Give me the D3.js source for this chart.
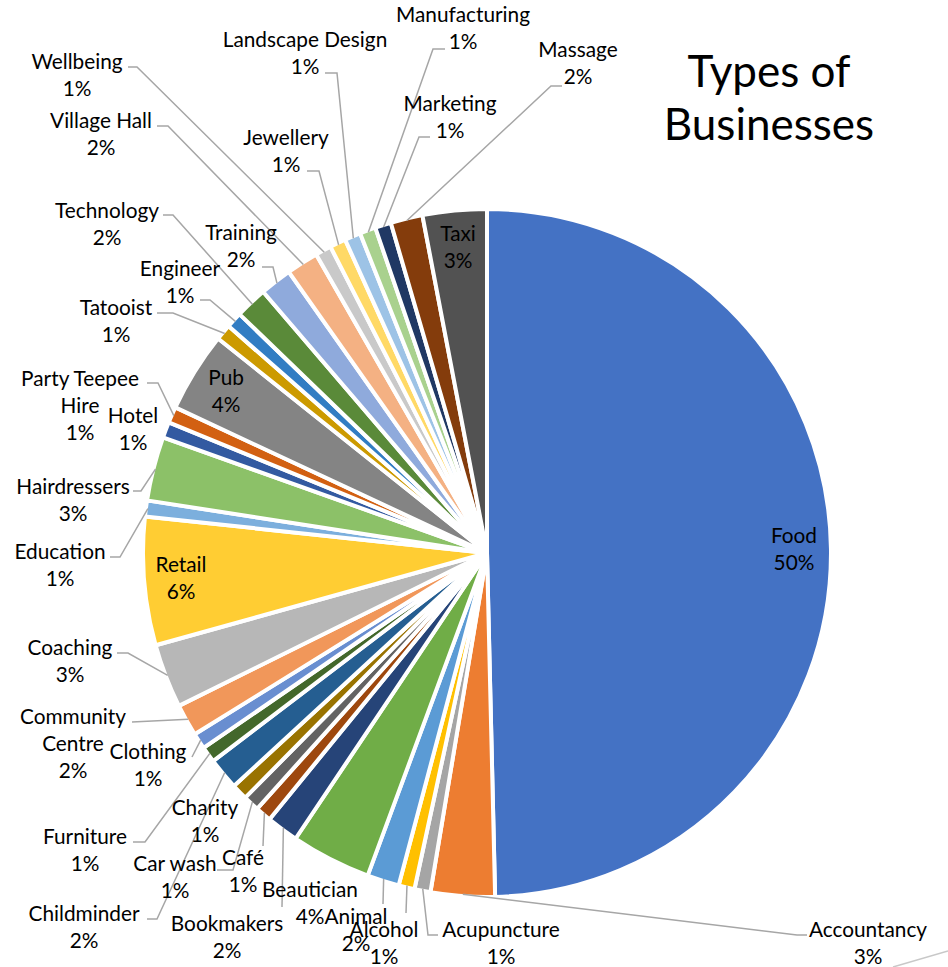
<!DOCTYPE html>
<html>
<head>
<meta charset="utf-8">
<script src="https://cdn.jsdelivr.net/npm/d3@7"></script>
<style>
  html, body { margin: 0; padding: 0; background: #fff; }
  svg { display: block; }
  text { font-family: Lato, "Liberation Sans", sans-serif; fill: #000; }
</style>
</head>
<body>
<svg id="chart" width="948" height="967"></svg>
<script>
// Business types, clockwise from 12 o'clock
const categories = [
  "Food", "Accountancy", "Acupuncture", "Alcohol", "Animal", "Beautician",
  "Bookmakers", "Café", "Car wash", "Charity", "Childminder", "Furniture",
  "Clothing", "Community Centre", "Coaching", "Retail", "Education",
  "Hairdressers", "Hotel", "Party Teepee Hire", "Pub", "Tatooist", "Engineer",
  "Technology", "Training", "Village Hall", "Wellbeing", "Jewellery",
  "Landscape Design", "Manufacturing", "Marketing", "Massage", "Taxi"
];

// Number of businesses of each type
const counts = [
  66, 4, 1, 1, 2, 5,
  2, 1, 1, 1, 2, 1,
  1, 2, 4, 8, 1,
  4, 1, 1, 5, 1, 1,
  2, 2, 2, 1, 1,
  1, 1, 1, 2, 4
];

// Office theme palette, cycled with shades and tints
const palette = [
  "#4472C4", "#ED7D31", "#A5A5A5", "#FFC000", "#5B9BD5", "#70AD47",
  "#264478", "#9E480E", "#636363", "#997300", "#255E91", "#43682B",
  "#698ED0", "#F1975A", "#B7B7B7", "#FFCD33", "#7CAFDD", "#8CC168",
  "#335AA1", "#D26012", "#848484", "#CC9A00", "#327DC3", "#5A8A39",
  "#8FAADC", "#F4B183", "#C9C9C9", "#FFD966", "#9DC3E6", "#A9D18E",
  "#203864", "#843C0C", "#525252"
];

// Labels drawn inside their slices
const insideLabels = ["Food", "Taxi", "Pub", "Retail"];

// Placement of the outside labels: text centre, line breaks, leader route
const labelLayout = {
  "Accountancy":       { x: 868, y: 930, attach: [807, 935], elbow: [797, 935] },
  "Acupuncture":       { x: 501, y: 930, attach: [438, 935], elbow: [428, 935] },
  "Alcohol":           { x: 384, y: 930, attach: [406, 913] },
  "Animal":            { x: 356, y: 917, attach: [383, 904] },
  "Beautician":        { x: 310, y: 890 },
  "Bookmakers":        { x: 227, y: 924, attach: [282, 907] },
  "Café":              { x: 243, y: 858, attach: [263, 846] },
  "Car wash":          { x: 175, y: 864, attach: [217, 870], elbow: [233, 870] },
  "Charity":           { x: 205, y: 808 },
  "Childminder":       { x: 84,  y: 914, attach: [147, 919], elbow: [157, 919] },
  "Furniture":         { x: 85,  y: 837, attach: [133, 842], elbow: [145, 842] },
  "Clothing":          { x: 148, y: 752, attach: [192, 757] },
  "Community Centre":  { x: 73,  y: 717, lines: ["Community", "Centre"], attach: [132, 722] },
  "Coaching":          { x: 70,  y: 648, attach: [117, 653], elbow: [128, 653] },
  "Education":         { x: 60,  y: 552, attach: [110, 557], elbow: [120, 557] },
  "Hairdressers":      { x: 73,  y: 487, attach: [133, 491], elbow: [141, 491] },
  "Hotel":             { x: 133, y: 416 },
  "Party Teepee Hire": { x: 80,  y: 379, lines: ["Party Teepee", "Hire"], attach: [147, 383], elbow: [158, 383] },
  "Tatooist":          { x: 116, y: 308, attach: [157, 313], elbow: [173, 313] },
  "Engineer":          { x: 180, y: 269, attach: [200, 300], elbow: [210, 300] },
  "Technology":        { x: 107, y: 211, attach: [163, 215], elbow: [173, 215] },
  "Training":          { x: 241, y: 233, attach: [262, 267], elbow: [273, 267] },
  "Village Hall":      { x: 101, y: 121, attach: [157, 126], elbow: [168, 126] },
  "Wellbeing":         { x: 77,  y: 62,  attach: [128, 67],  elbow: [137, 67] },
  "Jewellery":         { x: 286, y: 138, attach: [307, 171], elbow: [319, 171] },
  "Landscape Design":  { x: 305, y: 40,  attach: [325, 73],  elbow: [337, 73] },
  "Manufacturing":     { x: 463, y: 15,  attach: [445, 49],  elbow: [433, 49] },
  "Marketing":         { x: 450, y: 104, attach: [430, 137], elbow: [419, 137] },
  "Massage":           { x: 578, y: 50,  attach: [562, 86],  elbow: [551, 86] }
};

const titleLines = ["Types of", "Businesses"];

const svg = d3.select("#chart");
const cx = 487, cy = 553, radius = 344;
const lineStep = 27;

const data = categories.map((name, i) => ({ name, value: counts[i], color: palette[i % palette.length] }));
const total = d3.sum(counts);
const pct = v => Math.round(v / total * 100) + "%";

const pie = d3.pie().sort(null).value(d => d.value);
const arcs = pie(data);

const arc = d3.arc().innerRadius(0).outerRadius(radius);
const edgeArc = d3.arc().innerRadius(radius - 2).outerRadius(radius - 2);
const innerLabelArc = d3.arc().innerRadius(307).outerRadius(307);

const g = svg.append("g").attr("transform", `translate(${cx},${cy})`);

// slices
g.selectAll("path.slice")
  .data(arcs)
  .join("path")
  .attr("class", "slice")
  .attr("d", arc)
  .attr("fill", d => d.data.color)
  .attr("stroke", "#fff")
  .attr("stroke-width", 4)
  .attr("stroke-linejoin", "round");

// leader lines from outside labels to the middle of each slice's rim
const leaderGroup = svg.append("g")
  .attr("fill", "none")
  .attr("stroke", "#A6A6A6")
  .attr("stroke-width", 1.5);

arcs.forEach(a => {
  const lay = labelLayout[a.data.name];
  if (!lay || !lay.attach) return;
  const [ex, ey] = edgeArc.centroid(a);
  const pts = [lay.attach];
  if (lay.elbow) pts.push(lay.elbow);
  pts.push([cx + ex, cy + ey]);
  leaderGroup.append("path").attr("d", d3.line()(pts));
});

// faint frame edge at the lower right corner
svg.append("line")
  .attr("x1", 893).attr("y1", 967).attr("x2", 948).attr("y2", 951)
  .attr("stroke", "#C8C8C8").attr("stroke-width", 1.5);

// text labels
const labelGroup = svg.append("g").attr("font-size", 20.8).attr("text-anchor", "middle");

function drawLabel(x, y, lines) {
  const t = labelGroup.append("text").attr("x", x).attr("y", y);
  lines.forEach((ln, i) => {
    t.append("tspan").attr("x", x).attr("y", y + i * lineStep).attr("dy", "0.35em").text(ln);
  });
}

arcs.forEach(a => {
  const name = a.data.name;
  const share = pct(a.data.value);
  if (insideLabels.includes(name)) {
    const [lx, ly] = innerLabelArc.centroid(a);
    drawLabel(cx + lx, cy + ly - lineStep / 2, [name, share]);
  } else {
    const lay = labelLayout[name];
    if (!lay) return;
    drawLabel(lay.x, lay.y, (lay.lines || [name]).concat([share]));
  }
});

// title
const title = svg.append("text")
  .attr("text-anchor", "middle")
  .attr("font-size", 44);
titleLines.forEach((ln, i) => {
  title.append("tspan").attr("x", 769).attr("y", 87 + i * 53).text(ln);
});
</script>
</body>
</html>
